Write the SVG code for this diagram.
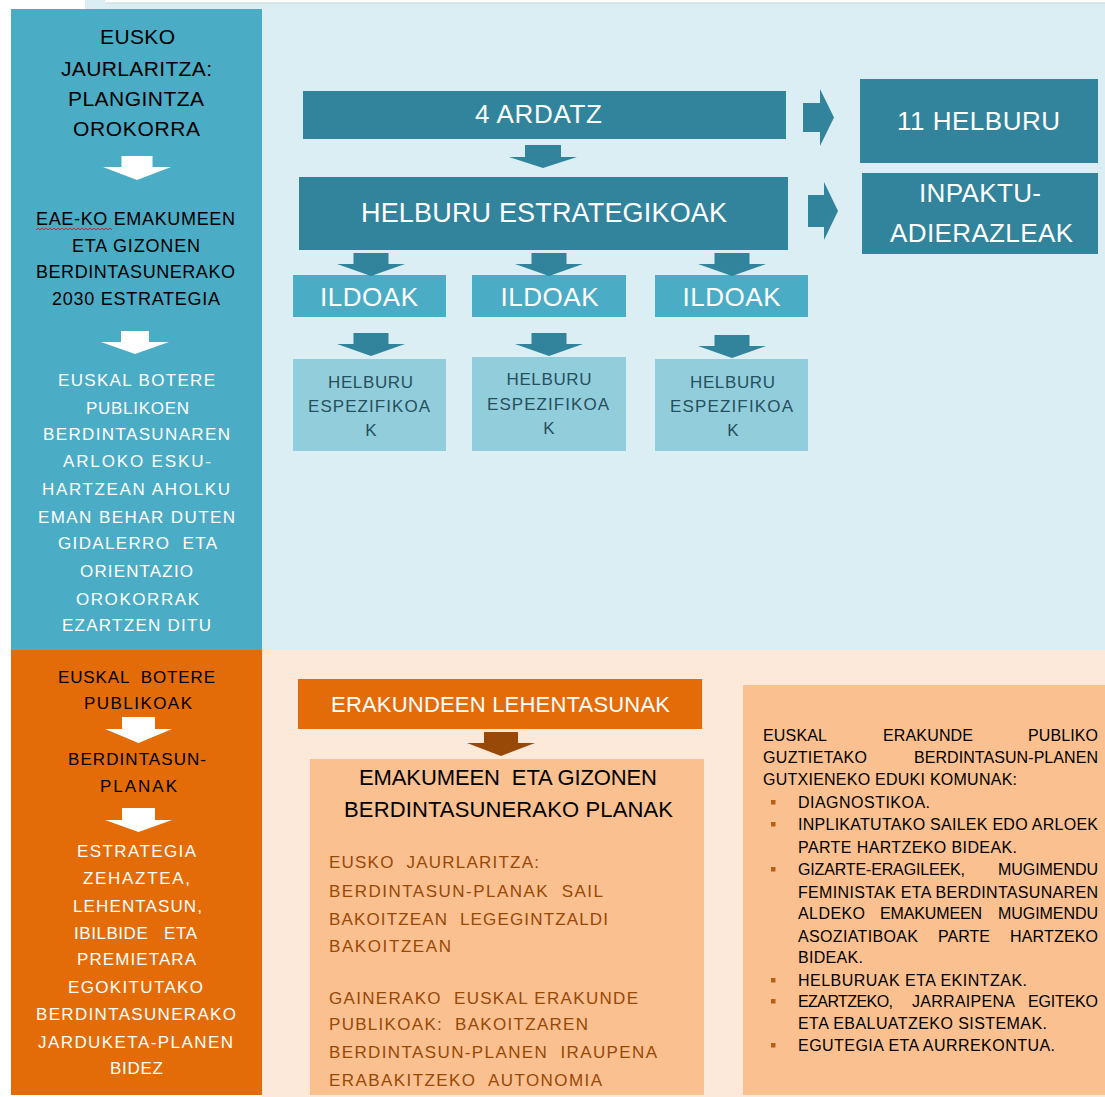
<svg xmlns="http://www.w3.org/2000/svg" width="1105" height="1097" viewBox="0 0 1105 1097">
<style>
text{font-family:"Liberation Sans",Arial,"DejaVu Sans",sans-serif;}
.c{text-anchor:middle;}
.wt{fill:#ffffff;}
.dk{fill:#000000;}
.br{fill:#984807;}
.sp{fill:#26505C;}
.teal{fill:#31849B;}
.aqua{fill:#4BACC6;}
.pale{fill:#92CDDC;}
.orange{fill:#E36C09;}
.peach{fill:#FAC090;}
.warrow{fill:#ffffff;}
.tarrow{fill:#31849B;}
.barrow{fill:#984807;}
.bul{fill:#B85F16;}
</style>
<rect x="0" y="0" width="1105" height="1097" fill="#ffffff"/>
<g id="background">
<rect x="85" y="0" width="1020" height="650" fill="#DAEEF3"/>
<rect x="105" y="0" width="1000" height="3" fill="#ffffff"/>
<line x1="105" y1="3" x2="1105" y2="3" stroke="#C9D3D6" stroke-width="1"/>
<rect x="262" y="650" width="843" height="447" fill="#FDE9D9"/>
</g>

<g id="left-top">
<rect x="11" y="9" width="251" height="641" class="aqua"/>
<text class="c dk" font-size="21" x="137.5" y="44" textLength="75" lengthAdjust="spacing">EUSKO</text>
<text class="c dk" font-size="21" x="136.5" y="76" textLength="151" lengthAdjust="spacing">JAURLARITZA:</text>
<text class="c dk" font-size="21" x="136" y="106" textLength="136" lengthAdjust="spacing">PLANGINTZA</text>
<text class="c dk" font-size="21" x="136.5" y="136" textLength="127" lengthAdjust="spacing">OROKORRA</text>
<text class="c dk" font-size="18" x="135.5" y="225" textLength="199" lengthAdjust="spacing">EAE-KO EMAKUMEEN</text>
<path d="M36,230 l2,-2 l2,2 l2,-2 l2,2 l2,-2 l2,2 l2,-2 l2,2 l2,-2 l2,2 l2,-2 l2,2 l2,-2 l2,2 l2,-2 l2,2 l2,-2 l2,2 l2,-2 l2,2 l2,-2 l2,2 l2,-2 l2,2 l2,-2 l2,2 l2,-2 l2,2 l2,-2 l2,2 l2,-2 l2,2 l2,-2 l2,2 l2,-2 l2,2 l2,-2 l2,2" fill="none" stroke="#E02020" stroke-width="1"/>
<text class="c dk" font-size="18" x="136" y="252" textLength="128" lengthAdjust="spacing">ETA GIZONEN</text>
<text class="c dk" font-size="18" x="135.5" y="278" textLength="199" lengthAdjust="spacing">BERDINTASUNERAKO</text>
<text class="c dk" font-size="18" x="136" y="305" textLength="168" lengthAdjust="spacing">2030 ESTRATEGIA</text>
<text class="c wt" font-size="17" x="136.5" y="386" textLength="157" lengthAdjust="spacing">EUSKAL BOTERE</text>
<text class="c wt" font-size="17" x="137.5" y="414" textLength="103" lengthAdjust="spacing">PUBLIKOEN</text>
<text class="c wt" font-size="17" x="136.5" y="440" textLength="187" lengthAdjust="spacing">BERDINTASUNAREN</text>
<text class="c wt" font-size="17" x="137" y="467" textLength="148" lengthAdjust="spacing">ARLOKO ESKU-</text>
<text class="c wt" font-size="17" x="136" y="495" textLength="188" lengthAdjust="spacing">HARTZEAN AHOLKU</text>
<text class="c wt" font-size="17" x="136.5" y="523" textLength="197" lengthAdjust="spacing">EMAN BEHAR DUTEN</text>
<text class="c wt" font-size="17" x="137.5" y="549" textLength="159" lengthAdjust="spacing" xml:space="preserve">GIDALERRO  ETA</text>
<text class="c wt" font-size="17" x="136.5" y="577" textLength="113" lengthAdjust="spacing">ORIENTAZIO</text>
<text class="c wt" font-size="17" x="137.5" y="605" textLength="123" lengthAdjust="spacing">OROKORRAK</text>
<text class="c wt" font-size="17" x="136.5" y="631" textLength="149" lengthAdjust="spacing">EZARTZEN DITU</text>
</g>

<g id="left-bottom">
<rect x="11" y="650" width="251" height="445" class="orange"/>
<text class="c dk" font-size="17" x="136.5" y="683" textLength="157" lengthAdjust="spacing" xml:space="preserve">EUSKAL  BOTERE</text>
<text class="c dk" font-size="17" x="138" y="709" textLength="108" lengthAdjust="spacing">PUBLIKOAK</text>
<text class="c dk" font-size="17" x="137" y="765" textLength="138" lengthAdjust="spacing">BERDINTASUN-</text>
<text class="c dk" font-size="17" x="138.5" y="792" textLength="77" lengthAdjust="spacing">PLANAK</text>
<text class="c wt" font-size="17" x="136.5" y="857" textLength="119" lengthAdjust="spacing">ESTRATEGIA</text>
<text class="c wt" font-size="17" x="136.5" y="884" textLength="107" lengthAdjust="spacing">ZEHAZTEA,</text>
<text class="c wt" font-size="17" x="137.5" y="912" textLength="129" lengthAdjust="spacing">LEHENTASUN,</text>
<text class="c wt" font-size="17" x="135.5" y="939" textLength="123" lengthAdjust="spacing" xml:space="preserve">IBILBIDE   ETA</text>
<text class="c wt" font-size="17" x="136.5" y="965" textLength="119" lengthAdjust="spacing">PREMIETARA</text>
<text class="c wt" font-size="17" x="135.5" y="993" textLength="135" lengthAdjust="spacing">EGOKITUTAKO</text>
<text class="c wt" font-size="17" x="136" y="1020" textLength="200" lengthAdjust="spacing">BERDINTASUNERAKO</text>
<text class="c wt" font-size="17" x="135.5" y="1048" textLength="195" lengthAdjust="spacing">JARDUKETA-PLANEN</text>
<text class="c wt" font-size="17" x="136.5" y="1074" textLength="53" lengthAdjust="spacing">BIDEZ</text>
</g>

<g id="node-ardatz">
<rect x="303" y="91" width="483" height="48" class="teal"/>
<text class="c wt" font-size="26" x="538.5" y="123" textLength="127" lengthAdjust="spacing">4 ARDATZ</text>
</g>
<g id="node-helburu-estrategikoak">
<rect x="299" y="177" width="489" height="73" class="teal"/>
<text class="c wt" font-size="27" x="544" y="222" textLength="366" lengthAdjust="spacing">HELBURU ESTRATEGIKOAK</text>
</g>
<g id="node-11-helburu">
<rect x="860" y="79" width="238" height="84" class="teal"/>
<text class="c wt" font-size="26" x="978.5" y="130" textLength="163" lengthAdjust="spacing">11 HELBURU</text>
</g>
<g id="node-inpaktu">
<rect x="862" y="173" width="236" height="81" class="teal"/>
<text class="c wt" font-size="26" x="980" y="202" textLength="122" lengthAdjust="spacing">INPAKTU-</text>
<text class="c wt" font-size="26" x="981.5" y="242" textLength="183" lengthAdjust="spacing">ADIERAZLEAK</text>
</g>
<g id="node-ildoak-1">
<rect x="293" y="275" width="153" height="42" class="aqua"/>
<text class="c wt" font-size="26" x="369" y="306" textLength="98" lengthAdjust="spacing">ILDOAK</text>
</g>
<g id="node-ildoak-2">
<rect x="472" y="275" width="154" height="42" class="aqua"/>
<text class="c wt" font-size="26" x="549.5" y="306" textLength="98" lengthAdjust="spacing">ILDOAK</text>
</g>
<g id="node-ildoak-3">
<rect x="655" y="275" width="153" height="42" class="aqua"/>
<text class="c wt" font-size="26" x="731.5" y="306" textLength="98" lengthAdjust="spacing">ILDOAK</text>
</g>
<g id="node-espezifikoak-1">
<rect x="293" y="359" width="153" height="92" class="pale"/>
<text class="c sp" font-size="17" x="370.5" y="388" textLength="85" lengthAdjust="spacing">HELBURU</text>
<text class="c sp" font-size="17" x="369" y="412" textLength="122" lengthAdjust="spacing">ESPEZIFIKOA</text>
<text class="c sp" font-size="17" x="371" y="436">K</text>
</g>
<g id="node-espezifikoak-2">
<rect x="472" y="357" width="154" height="94" class="pale"/>
<text class="c sp" font-size="17" x="549" y="385" textLength="85" lengthAdjust="spacing">HELBURU</text>
<text class="c sp" font-size="17" x="548" y="410" textLength="122" lengthAdjust="spacing">ESPEZIFIKOA</text>
<text class="c sp" font-size="17" x="549" y="434">K</text>
</g>
<g id="node-espezifikoak-3">
<rect x="655" y="359" width="153" height="92" class="pale"/>
<text class="c sp" font-size="17" x="732.5" y="388" textLength="85" lengthAdjust="spacing">HELBURU</text>
<text class="c sp" font-size="17" x="731.5" y="412" textLength="123" lengthAdjust="spacing">ESPEZIFIKOA</text>
<text class="c sp" font-size="17" x="733" y="436">K</text>
</g>

<g id="node-lehentasunak">
<rect x="298" y="679" width="404" height="50" class="orange"/>
<text class="c wt" font-size="22" x="500.5" y="712" textLength="339" lengthAdjust="spacing">ERAKUNDEEN LEHENTASUNAK</text>
</g>
<g id="node-planak">
<rect x="310" y="759" width="394" height="336" class="peach"/>
<text class="c dk" font-size="22" x="508" y="785" textLength="298" lengthAdjust="spacing" xml:space="preserve">EMAKUMEEN  ETA GIZONEN</text>
<text class="c dk" font-size="22" x="508.5" y="817" textLength="329" lengthAdjust="spacing">BERDINTASUNERAKO PLANAK</text>
<text class="br" font-size="17" x="329" y="868" textLength="210" lengthAdjust="spacing" xml:space="preserve">EUSKO  JAURLARITZA:</text>
<text class="br" font-size="17" x="329" y="897" textLength="274" lengthAdjust="spacing" xml:space="preserve">BERDINTASUN-PLANAK  SAIL</text>
<text class="br" font-size="17" x="329" y="925" textLength="279" lengthAdjust="spacing" xml:space="preserve">BAKOITZEAN  LEGEGINTZALDI</text>
<text class="br" font-size="17" x="329" y="952" textLength="122" lengthAdjust="spacing">BAKOITZEAN</text>
<text class="br" font-size="17" x="329" y="1004" textLength="309" lengthAdjust="spacing" xml:space="preserve">GAINERAKO  EUSKAL ERAKUNDE</text>
<text class="br" font-size="17" x="329" y="1030" textLength="259" lengthAdjust="spacing" xml:space="preserve">PUBLIKOAK:  BAKOITZAREN</text>
<text class="br" font-size="17" x="329" y="1058" textLength="328" lengthAdjust="spacing" xml:space="preserve">BERDINTASUN-PLANEN  IRAUPENA</text>
<text class="br" font-size="17" x="329" y="1086" textLength="273" lengthAdjust="spacing" xml:space="preserve">ERABAKITZEKO  AUTONOMIA</text>
</g>

<g id="node-eduki-komunak">
<rect x="743" y="685" width="362" height="410" class="peach"/>
<g class="dk" font-size="16">
<text x="763" y="741" textLength="64" lengthAdjust="spacing">EUSKAL</text>
<text x="883" y="741" textLength="90" lengthAdjust="spacing">ERAKUNDE</text>
<text x="1028" y="741" textLength="70" lengthAdjust="spacing">PUBLIKO</text>
<text x="763" y="763" textLength="104" lengthAdjust="spacing">GUZTIETAKO</text>
<text x="914" y="763" textLength="184" lengthAdjust="spacing">BERDINTASUN-PLANEN</text>
<text x="763" y="785" textLength="254" lengthAdjust="spacing">GUTXIENEKO EDUKI KOMUNAK:</text>
<text x="798" y="808" textLength="132" lengthAdjust="spacing">DIAGNOSTIKOA.</text>
<text x="798" y="830" textLength="300" lengthAdjust="spacing">INPLIKATUTAKO SAILEK EDO ARLOEK</text>
<text x="798" y="853" textLength="219" lengthAdjust="spacing">PARTE HARTZEKO BIDEAK.</text>
<text x="798" y="875" textLength="167" lengthAdjust="spacing">GIZARTE-ERAGILEEK,</text>
<text x="998" y="875" textLength="100" lengthAdjust="spacing">MUGIMENDU</text>
<text x="798" y="898" textLength="300" lengthAdjust="spacing">FEMINISTAK ETA BERDINTASUNAREN</text>
<text x="798" y="919" textLength="67" lengthAdjust="spacing">ALDEKO</text>
<text x="880" y="919" textLength="102" lengthAdjust="spacing">EMAKUMEEN</text>
<text x="998" y="919" textLength="100" lengthAdjust="spacing">MUGIMENDU</text>
<text x="798" y="942" textLength="120" lengthAdjust="spacing">ASOZIATIBOAK</text>
<text x="938" y="942" textLength="52" lengthAdjust="spacing">PARTE</text>
<text x="1010" y="942" textLength="88" lengthAdjust="spacing">HARTZEKO</text>
<text x="798" y="963" textLength="65" lengthAdjust="spacing">BIDEAK.</text>
<text x="798" y="986" textLength="229" lengthAdjust="spacing">HELBURUAK ETA EKINTZAK.</text>
<text x="798" y="1007" textLength="95" lengthAdjust="spacing">EZARTZEKO,</text>
<text x="912" y="1007" textLength="103" lengthAdjust="spacing">JARRAIPENA</text>
<text x="1028" y="1007" textLength="70" lengthAdjust="spacing">EGITEKO</text>
<text x="798" y="1029" textLength="249" lengthAdjust="spacing">ETA EBALUATZEKO SISTEMAK.</text>
<text x="798" y="1051" textLength="257" lengthAdjust="spacing">EGUTEGIA ETA AURREKONTUA.</text>
</g>
<g class="bul">
<rect x="771" y="800" width="4.5" height="4.5"/>
<rect x="771" y="822" width="4.5" height="4.5"/>
<rect x="771" y="867" width="4.5" height="4.5"/>
<rect x="771" y="978" width="4.5" height="4.5"/>
<rect x="771" y="999" width="4.5" height="4.5"/>
<rect x="771" y="1043" width="4.5" height="4.5"/>
</g>
</g>

<g id="connectors">
<polygon class="warrow" points="121.5,156 152.5,156 152.5,167 171,167 137,180 103,167 121.5,167"/>
<polygon class="warrow" points="121,331 149,331 149,342 169,342 135,354 101,342 121,342"/>
<polygon class="warrow" points="122,717 155,717 155,729 172,729 138.5,743 105,729 122,729"/>
<polygon class="warrow" points="122,808 155,808 155,820 172,820 138.5,832 105,820 122,820"/>
<polygon class="tarrow" points="525,145 561,145 561,157 577,157 543,168 509,157 525,157"/>
<polygon class="tarrow" points="353.5,253 388.5,253 388.5,264 405,264 371,276 337,264 353.5,264"/>
<polygon class="tarrow" points="531.5,253 566.5,253 566.5,264 583,264 549,276 515,264 531.5,264"/>
<polygon class="tarrow" points="714.5,253 749.5,253 749.5,264 766,264 732,276 698,264 714.5,264"/>
<polygon class="tarrow" points="353.5,333 388.5,333 388.5,344 405,344 371,356 337,344 353.5,344"/>
<polygon class="tarrow" points="531.5,333 566.5,333 566.5,344 583,344 549,356 515,344 531.5,344"/>
<polygon class="tarrow" points="714.5,335 749.5,335 749.5,346 766,346 732,358 698,346 714.5,346"/>
<polygon class="tarrow" points="803,103 820,103 820,89 834,117.5 820,146 820,132 803,132"/>
<polygon class="tarrow" points="808,195 824,195 824,182 838,211 824,240 824,227 808,227"/>
<polygon class="barrow" points="484,732 518,732 518,743 535,743 501,756 467,743 484,743"/>
</g>
</svg>
